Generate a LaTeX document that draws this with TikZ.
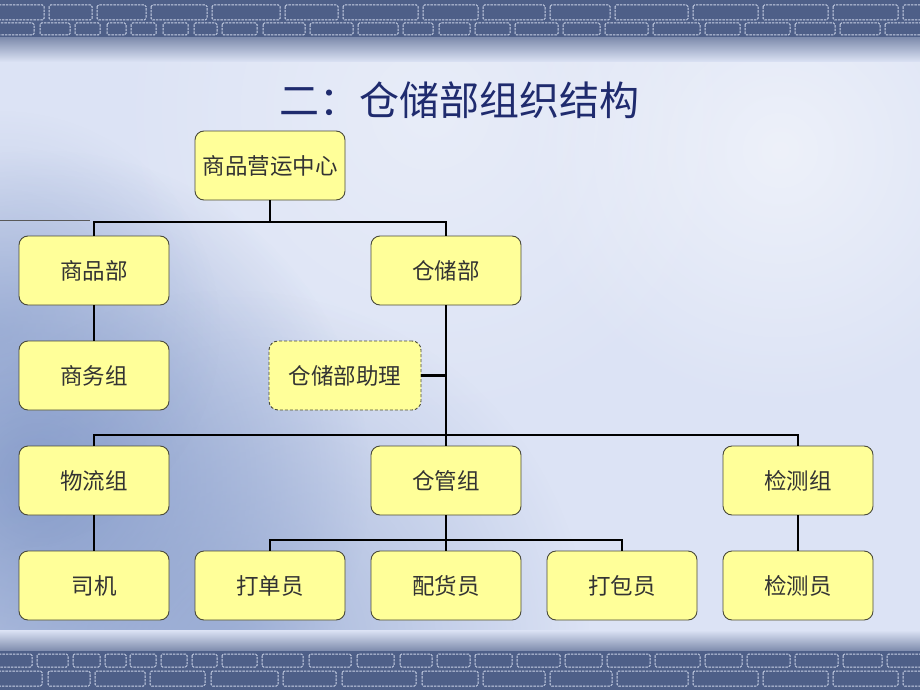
\documentclass[tikz,border=0pt]{standalone}
\usepackage{fontspec}
\newfontfamily\cjk{Noto Sans CJK SC}
\usetikzlibrary{calc,fadings}
\definecolor{bgc}{HTML}{DCE3F5}
\definecolor{bandc}{HTML}{4E5F88}
\definecolor{mortar}{HTML}{C9D2E6}
\definecolor{boxfill}{HTML}{FFFF99}
\definecolor{boxline}{HTML}{4A4A3A}
\definecolor{titlec}{HTML}{1F2B6E}
\definecolor{cloud}{HTML}{7E95C6}
\tikzfading[name=softcirc, inner color=transparent!0, outer color=transparent!100]
\tikzset{
  orgbox/.style={draw=boxline, line width=0.9pt, fill=boxfill, rounded corners=9pt,
    minimum width=150pt, minimum height=69pt, inner sep=0pt,
    font=\cjk\fontsize{22.5}{22.5}\selectfont, text=black!80},
  helperbox/.style={orgbox, dashed, dash pattern=on 3pt off 2pt, minimum width=152pt},
  link/.style={draw=black, line width=2.4pt},
  brick/.style={draw=mortar, line width=1pt, dash pattern=on 2.5pt off 1pt, rounded corners=1.5pt},
  softblob/.style={path fading=softcirc, fit fading=true}
}
\begin{document}
\begin{tikzpicture}[x=1pt,y=-1pt]
\useasboundingbox (0,0) rectangle (920,690);
% background
\fill[bgc] (0,0) rectangle (920,690);
\begin{scope}
\clip (0,0) rectangle (920,690);
\fill[white, opacity=0.5, softblob] (780,150) circle[radius=260];
\fill[white, opacity=0.35, softblob] (430,110) circle[radius=320];
\fill[cloud, opacity=0.85, softblob] (40,480) circle[radius=330];
\fill[cloud, opacity=0.6, softblob] (230,650) circle[radius=360];
\fill[cloud, opacity=0.4, softblob] (0,330) circle[radius=220];
\end{scope}
% top band
\shade[top color=bandc!70!bgc, bottom color=bgc] (0,36) rectangle (920,62);
\fill[bandc] (0,0) rectangle (920,37);
\foreach \a/\b in {-10/44,49/92,97/146,151/207,212/280,285/338,343/418,423/478,483/545,550/610,615/688,693/758,763/828,833/898,903/960}
  \draw[brick] (\a,5) rectangle (\b,20);
\foreach \a/\b in {-10/34,40/70,75/100,107/126,131/156,163/188,194/217,222/257,263/305,310/353,358/398,403/433,439/470,475/510,515/558,563/600,605/648,653/700,705/740,745/790,795/835,840/880,885/930}
  \draw[brick] (\a,23) rectangle (\b,35);
% bottom band
\shade[top color=bgc, bottom color=bandc!70!bgc] (0,630) rectangle (920,652);
\fill[bandc] (0,651) rectangle (920,690);
\foreach \a/\b in {-10/32,37/68,73/100,105/126,130/156,161/187,192/217,222/257,262/303,309/351,357/394,400/432,437/470,475/512,517/560,565/602,607/650,655/700,705/742,747/790,795/838,843/882,887/930}
  \draw[brick] (\a,654) rectangle (\b,667);
\foreach \a/\b in {-10/42,48/90,95/145,150/205,211/278,283/336,342/416,422/478,483/545,550/612,617/688,693/758,763/828,833/898,903/960}
  \draw[brick] (\a,671) rectangle (\b,686);
% title
\node[text=titlec, font=\cjk\fontsize{40}{40}\selectfont] (title) at (459,100) {二：仓储部组织结构};
% nodes
\node[orgbox] (top) at (270,165.5) {商品营运中心};
\node[orgbox] (spb) at (94,270.5) {商品部};
\node[orgbox] (ccb) at (446,270.5) {仓储部};
\node[orgbox] (swz) at (94,375.5) {商务组};
\node[helperbox] (zl) at (345,375.5) {仓储部助理};
\node[orgbox] (wlz) at (94,480.5) {物流组};
\node[orgbox] (cgz) at (446,480.5) {仓管组};
\node[orgbox] (jcz) at (798,480.5) {检测组};
\node[orgbox] (sj) at (94,585.5) {司机};
\node[orgbox] (ddy) at (270,585.5) {打单员};
\node[orgbox] (phy) at (446,585.5) {配货员};
\node[orgbox] (dby) at (622,585.5) {打包员};
\node[orgbox] (jcy) at (798,585.5) {检测员};
% junction coordinates
\coordinate (h1) at (270,222);
\coordinate (h2) at (446,435);
\coordinate (h3) at (446,540);
\coordinate (g1) at (0,220);
\coordinate (g2) at (90,220);
% connectors
\draw[gray!70!black, line width=1pt] (g1) -- (g2);
\draw[link] (top.south) -- (top.south |- h1);
\draw[link] (spb.north) -- (spb.north |- h1) -- (ccb.north |- h1) -- (ccb.north);
\draw[link] (spb.south) -- (swz.north);
\draw[link] (ccb.south) -- (h2);
\draw[link] (zl.east) -- (zl.east -| ccb.south);
\draw[link] (wlz.north) -- (wlz.north |- h2) -- (jcz.north |- h2) -- (jcz.north);
\draw[link] (h2) -- (cgz.north);
\draw[link] (wlz.south) -- (sj.north);
\draw[link] (jcz.south) -- (jcy.north);
\draw[link] (cgz.south) -- (h3);
\draw[link] (ddy.north) -- (ddy.north |- h3) -- (dby.north |- h3) -- (dby.north);
\draw[link] (h3) -- (phy.north);
\end{tikzpicture}
\end{document}
